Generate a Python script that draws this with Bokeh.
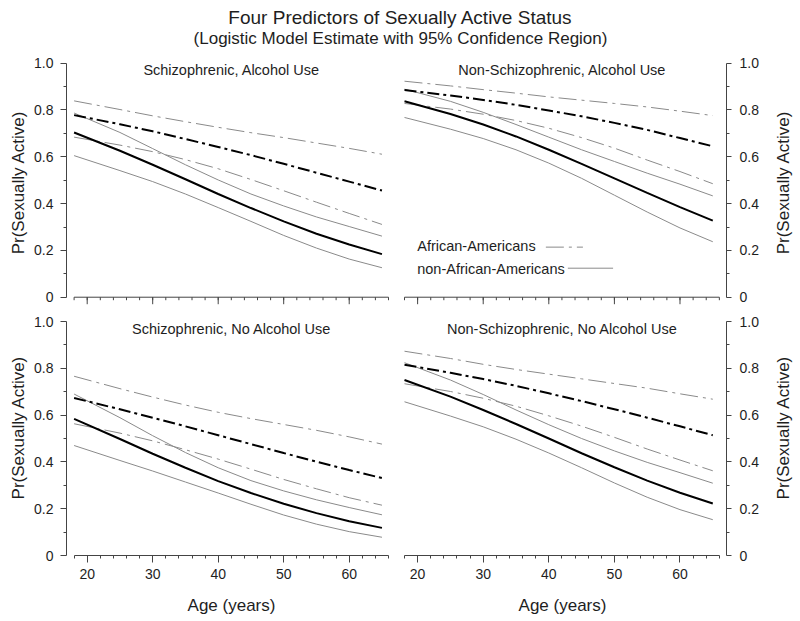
import math
from bokeh.plotting import figure
from bokeh.layouts import column, row
from bokeh.models import Range1d, FixedTicker, Label, NumeralTickFormatter
from bokeh.embed import file_html
from bokeh.resources import INLINE

FONT = "Liberation Sans"
TEXT = "#1e1e1e"
AXIS = "#444444"
GRAY = "#8a8a8a"
THICK_DD = "12 4 3 4"
THIN_DD = "18 5 3 5"

# ---------------- data ----------------
ages = [18, 25, 30, 35, 40, 45, 50, 55, 60, 65]

# Schizophrenic, Alcohol Use
sa_aa_est = [0.778, 0.739, 0.709, 0.676, 0.642, 0.607, 0.570, 0.532, 0.494, 0.456]
sa_aa_hi = [0.839, 0.802, 0.775, 0.750, 0.726, 0.703, 0.682, 0.659, 0.636, 0.611]
sa_aa_lo = [0.684, 0.650, 0.622, 0.588, 0.549, 0.503, 0.455, 0.406, 0.358, 0.311]
sa_na_est = [0.704, 0.626, 0.566, 0.504, 0.441, 0.381, 0.324, 0.271, 0.225, 0.184]
sa_na_hi = [0.787, 0.704, 0.635, 0.566, 0.501, 0.441, 0.390, 0.343, 0.302, 0.261]
sa_na_lo = [0.605, 0.541, 0.494, 0.441, 0.383, 0.324, 0.264, 0.210, 0.163, 0.126]

# Non-Schizophrenic, Alcohol Use
na_aa_est = [0.885, 0.862, 0.843, 0.822, 0.798, 0.773, 0.745, 0.715, 0.680, 0.645]
na_aa_hi = [0.923, 0.903, 0.887, 0.872, 0.856, 0.842, 0.828, 0.813, 0.795, 0.776]
na_aa_lo = [0.828, 0.804, 0.782, 0.755, 0.722, 0.682, 0.637, 0.586, 0.537, 0.485]
na_na_est = [0.837, 0.783, 0.738, 0.687, 0.630, 0.570, 0.508, 0.446, 0.385, 0.327]
na_na_hi = [0.889, 0.837, 0.790, 0.738, 0.684, 0.630, 0.580, 0.530, 0.483, 0.433]
na_na_lo = [0.768, 0.718, 0.678, 0.630, 0.573, 0.508, 0.436, 0.364, 0.296, 0.237]

# Schizophrenic, No Alcohol Use
sn_aa_est = [0.673, 0.625, 0.589, 0.552, 0.514, 0.476, 0.438, 0.401, 0.365, 0.331]
sn_aa_hi = [0.766, 0.713, 0.677, 0.643, 0.612, 0.585, 0.560, 0.535, 0.507, 0.476]
sn_aa_lo = [0.563, 0.523, 0.490, 0.452, 0.412, 0.369, 0.325, 0.285, 0.247, 0.215]
sn_na_est = [0.584, 0.498, 0.435, 0.375, 0.318, 0.267, 0.221, 0.181, 0.146, 0.118]
sn_na_hi = [0.690, 0.589, 0.512, 0.440, 0.375, 0.320, 0.276, 0.238, 0.205, 0.174]
sn_na_lo = [0.470, 0.406, 0.361, 0.314, 0.267, 0.219, 0.173, 0.134, 0.102, 0.078]

# Non-Schizophrenic, No Alcohol Use
nn_aa_est = [0.815, 0.781, 0.754, 0.725, 0.693, 0.660, 0.625, 0.589, 0.552, 0.514]
nn_aa_hi = [0.873, 0.842, 0.817, 0.795, 0.775, 0.755, 0.735, 0.715, 0.691, 0.668]
nn_aa_lo = [0.734, 0.701, 0.672, 0.638, 0.597, 0.553, 0.505, 0.455, 0.408, 0.362]
nn_na_est = [0.750, 0.679, 0.622, 0.562, 0.500, 0.437, 0.377, 0.320, 0.268, 0.222]
nn_na_hi = [0.824, 0.750, 0.688, 0.622, 0.559, 0.500, 0.447, 0.398, 0.354, 0.309]
nn_na_lo = [0.657, 0.596, 0.550, 0.497, 0.438, 0.375, 0.310, 0.249, 0.196, 0.153]

panel_titles = ["Schizophrenic, Alcohol Use", "Non-Schizophrenic, Alcohol Use",
                "Schizophrenic, No Alcohol Use", "Non-Schizophrenic, No Alcohol Use"]
legend_labels = ["African-Americans", "non-African-Americans"]
x_major = [20, 30, 40, 50, 60]
x_minor = list(range(18, 67, 2))
y_major = [0, 0.2, 0.4, 0.6, 0.8, 1.0]
y_minor = [0.1, 0.3, 0.5, 0.7, 0.9]
y_axis_title = "Pr(Sexually Active)"
x_axis_title = "Age (years)"
main_title = "Four Predictors of Sexually Active Status"
sub_title = "(Logistic Model Estimate with 95% Confidence Region)"

PX_PER_UNIT = 234.0  # vertical pixels per probability unit
TOP_H, BOT_H = 250, 284


def style_axis(ax, major_out, minor_out):
    ax.axis_line_color = AXIS
    ax.major_tick_line_color = AXIS
    ax.minor_tick_line_color = AXIS
    ax.major_tick_in = 0
    ax.minor_tick_in = 0
    ax.major_tick_out = major_out
    ax.minor_tick_out = minor_out
    ax.major_label_text_font = FONT
    ax.major_label_text_font_size = "14px"
    ax.major_label_text_color = TEXT


def text_label(p, x, y, txt, size, align="center", angle=0.0):
    p.add_layout(Label(x=x, y=y, text=txt, text_align=align, angle=angle,
                       text_baseline="middle", text_font=FONT,
                       text_font_size=size, text_color=TEXT))


def blank_fig(w, h):
    f = figure(width=w, height=h, x_range=Range1d(0, w), y_range=Range1d(0, h),
               output_backend="svg", toolbar_location=None,
               x_axis_type=None, y_axis_type=None, min_border=0)
    f.grid.visible = False
    f.outline_line_color = None
    return f


def make_panel(title, data, right, bottom, legend=False):
    aa_est, aa_hi, aa_lo, na_est, na_hi, na_lo = data
    if right:
        width, xr = 374, Range1d(16.78, 67.09)
        bl, br = 0, 44
    else:
        width, xr = 366, Range1d(16.84, 66.61)
        bl, br = 36, 4
    if bottom:
        height, yr = BOT_H, Range1d(0, 1.0214)
        bt, bb = 10, 35
    else:
        height, yr = TOP_H, Range1d(-0.0397, 1.0115)
        bt, bb = 4, 0
    p = figure(width=width, height=height, x_range=xr, y_range=yr,
               output_backend="svg", toolbar_location=None,
               y_axis_location="right" if right else "left",
               min_border_left=bl, min_border_right=br,
               min_border_top=bt, min_border_bottom=bb)
    p.grid.visible = False
    p.outline_line_color = None
    p.background_fill_color = "white"
    p.border_fill_color = "white"

    xa = p.xaxis[0]
    if bottom:
        xa.ticker = FixedTicker(ticks=x_major, minor_ticks=x_minor)
        xa.bounds = (18, 66)
        style_axis(xa, 7, 3)
        xa.major_label_standoff = 6
    else:
        # tick marks only (no labels) along the top panels' age axis
        xa.visible = False
        p.segment(x0=[18], y0=[0], x1=[66], y1=[0], line_color=AXIS, line_width=1)
        p.segment(x0=x_minor, y0=[0] * len(x_minor), x1=x_minor,
                  y1=[-3 / PX_PER_UNIT] * len(x_minor), line_color=AXIS, line_width=1)
        p.segment(x0=x_major, y0=[0] * len(x_major), x1=x_major,
                  y1=[-7 / PX_PER_UNIT] * len(x_major), line_color=AXIS, line_width=1)

    ya = p.yaxis[0]
    ya.ticker = FixedTicker(ticks=y_major, minor_ticks=y_minor)
    ya.bounds = (0, 1)
    ya.formatter = NumeralTickFormatter(format="0.0")
    ya.major_label_overrides = {0: "0"}
    style_axis(ya, 5 if right else 6, 3)
    ya.major_label_standoff = 8 if right else 7

    p.line(ages, aa_hi, line_color=GRAY, line_width=1, line_dash=THIN_DD)
    p.line(ages, aa_lo, line_color=GRAY, line_width=1, line_dash=THIN_DD)
    p.line(ages, na_hi, line_color=GRAY, line_width=1)
    p.line(ages, na_lo, line_color=GRAY, line_width=1)
    p.line(ages, aa_est, line_color="black", line_width=2, line_dash=THICK_DD)
    p.line(ages, na_est, line_color="black", line_width=2)

    text_label(p, 42.05, 0.97, title, "14.5px")

    if legend:
        text_label(p, 19.94, 0.219, legend_labels[0], "14.5px", align="left")
        text_label(p, 19.94, 0.121, legend_labels[1], "14.5px", align="left")
        p.line([39.55, 45.2], [0.214, 0.214], line_color=GRAY, line_width=1,
               line_dash=THIN_DD)
        p.line([42.9, 49.8], [0.124, 0.124], line_color=GRAY, line_width=1)
    return p


def y_title_fig(h, cx, cy_from_top):
    f = blank_fig(30, h)
    text_label(f, cx, h - cy_from_top, y_axis_title, "17px", angle=math.pi / 2)
    return f


tl = make_panel(panel_titles[0], (sa_aa_est, sa_aa_hi, sa_aa_lo, sa_na_est, sa_na_hi, sa_na_lo), False, False)
tr = make_panel(panel_titles[1], (na_aa_est, na_aa_hi, na_aa_lo, na_na_est, na_na_hi, na_na_lo), True, False, legend=True)
bl = make_panel(panel_titles[2], (sn_aa_est, sn_aa_hi, sn_aa_lo, sn_na_est, sn_na_hi, sn_na_lo), False, True)
br = make_panel(panel_titles[3], (nn_aa_est, nn_aa_hi, nn_aa_lo, nn_na_est, nn_na_hi, nn_na_lo), True, True)

head = blank_fig(800, 56)
text_label(head, 400, 39, main_title, "19px")
text_label(head, 400, 18, sub_title, "17px")

foot = blank_fig(800, 31)
text_label(foot, 231, 16, x_axis_title, "17px")
text_label(foot, 562, 16, x_axis_title, "17px")

layout = column(
    head,
    row(y_title_fig(TOP_H, 17.5, 124), tl, tr, y_title_fig(TOP_H, 13, 124)),
    row(y_title_fig(BOT_H, 17.5, 132), bl, br, y_title_fig(BOT_H, 13, 132)),
    foot,
)
open("out.html", "w").write(file_html(layout, INLINE))
